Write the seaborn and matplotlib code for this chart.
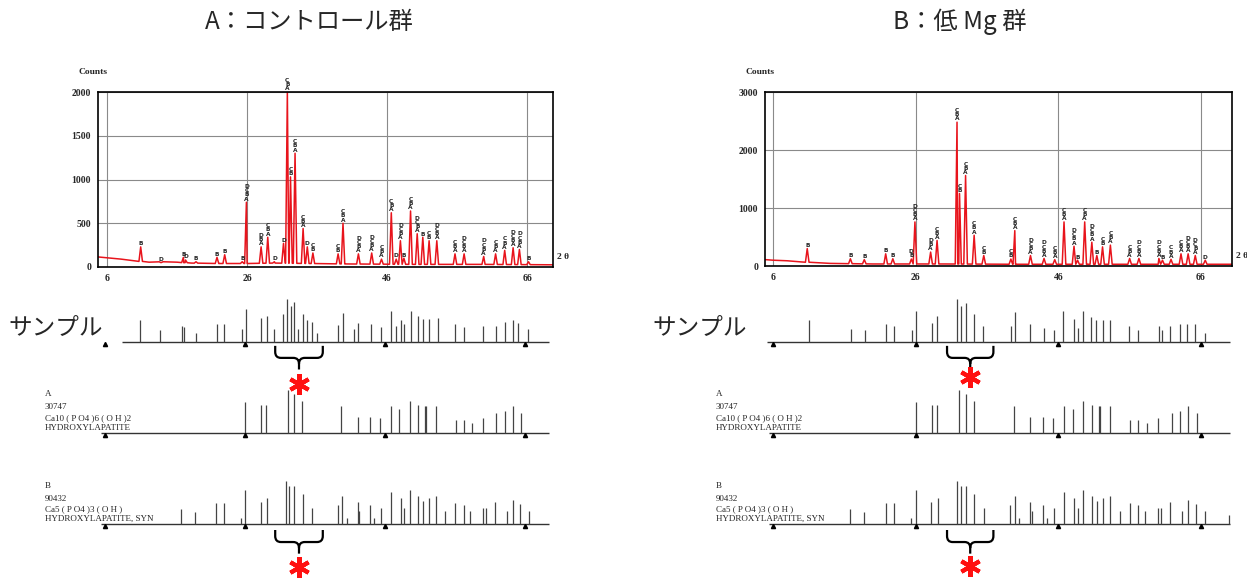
import numpy as np
import pandas as pd
import matplotlib
matplotlib.use('Agg')
import matplotlib.pyplot as plt
from matplotlib.path import Path
from matplotlib.patches import PathPatch
import seaborn as sns

# --- Data: XRD traces (2theta in degrees, counts) ---
A_BG_X = [4.7, 6, 8, 10, 12, 14, 16, 18, 22, 26, 30, 35, 40, 50, 60, 69.7]
A_BG_Y = [115, 105, 90, 70, 55, 60, 55, 45, 40, 40, 45, 40, 35, 30, 30, 25]
A_PEAK_POS = [10.8, 13.7, 16.9, 17.2, 18.7, 21.7, 22.8, 25.3, 25.9, 28.0, 28.95, 29.9,
              31.2, 31.75, 32.2, 32.85, 34.0, 34.6, 35.4, 39.0, 39.7, 41.9, 43.8, 45.2,
              46.6, 47.3, 47.9, 48.4, 49.35, 50.3, 51.1, 52.0, 53.1, 55.7, 57.0, 59.8,
              61.5, 62.8, 64.0, 64.9, 66.2]
A_PEAK_CNT = [230, 50, 110, 80, 60, 110, 140, 60, 740, 230, 340, 60,
              270, 2000, 1030, 1300, 440, 230, 160, 150, 500, 150, 160, 90,
              620, 90, 300, 100, 640, 380, 340, 300, 300, 150, 150, 120,
              150, 190, 220, 200, 60]
A_PEAK_LBL = ['B', 'D', 'B', 'D', 'B', 'B', 'B', 'B', 'DCBA', 'DBA', 'CBA', 'D',
              'D', 'CBA', 'CB', 'CBA', 'CBA', 'D', 'CB', 'CB', 'CBA', 'DCBA', 'DCBA', 'CBA',
              'CBA', 'D', 'DCBA', 'B', 'CBA', 'DCBA', 'B', 'CB', 'DCBA', 'CBA', 'DCBA', 'DCBA',
              'CBA', 'CBA', 'DCBA', 'DCBA', 'B']

B_BG_X = [4.9, 6, 8, 10, 14, 20, 30, 40, 50, 60, 70.3]
B_BG_Y = [110, 100, 90, 70, 45, 35, 35, 30, 30, 30, 30]
B_PEAK_POS = [10.8, 16.85, 18.8, 21.8, 22.8, 25.4, 25.9, 28.1, 29.0, 31.8, 32.15, 33.0,
              34.2, 35.55, 39.35, 39.9, 42.1, 44.0, 45.5, 46.8, 48.2, 48.7, 49.7, 50.7,
              51.4, 52.2, 53.3, 56.0, 57.3, 60.1, 60.6, 61.8, 63.2, 64.2, 65.2, 66.6]
B_PEAK_CNT = [300, 125, 110, 210, 125, 120, 760, 240, 440, 2480, 1250, 1560,
              530, 180, 120, 610, 180, 130, 110, 760, 340, 100, 760, 410,
              180, 330, 360, 130, 130, 130, 100, 115, 210, 210, 180, 100]
B_PEAK_LBL = ['B', 'B', 'B', 'B', 'B', 'DB', 'DCBA', 'DBA', 'CBA', 'CBA', 'CB', 'CBA',
              'CBA', 'CB', 'CB', 'CBA', 'DCBA', 'DCBA', 'CBA', 'CBA', 'DCBA', 'B', 'CBA', 'DCBA',
              'B', 'CB', 'CBA', 'CBA', 'DCBA', 'DCBA', 'B', 'CBA', 'CBA', 'DCBA', 'DCBA', 'D']

# --- Data: stick patterns (2theta, relative intensity) ---
A_SAMPLE_POS = [11.0, 13.9, 16.95, 17.2, 19.0, 22.0, 23.0, 25.6, 26.1, 28.3, 29.1, 30.1,
                31.4, 32.0, 32.5, 33.0, 33.6, 34.2, 34.9, 35.6, 36.2, 39.3, 40.0, 41.6,
                42.1, 44.0, 45.4, 46.8, 47.5, 48.2, 48.7, 49.65, 50.7, 51.4, 52.2, 53.5,
                56.0, 57.2, 60.0, 61.8, 63.1, 64.2, 65.0, 66.4]
A_SAMPLE_H = [52, 28, 38, 36, 22, 42, 42, 30, 76, 56, 60, 30,
              64, 100, 84, 92, 30, 66, 52, 46, 22, 40, 68, 30,
              44, 42, 34, 72, 38, 52, 42, 72, 60, 54, 54, 56,
              42, 34, 38, 38, 46, 52, 44, 30]

B_SAMPLE_POS = [11.0, 16.9, 18.9, 21.8, 22.95, 25.5, 26.0, 28.3, 29.05, 31.8, 32.4, 33.0,
                34.2, 35.5, 39.3, 39.9, 42.0, 44.0, 45.4, 46.7, 48.2, 48.7, 49.5, 50.6,
                51.3, 52.2, 53.2, 55.9, 57.2, 60.1, 60.5, 61.7, 63.1, 64.1, 65.1, 66.5]
B_SAMPLE_H = [51, 31, 29, 43, 37, 29, 71, 45, 61, 100, 83, 91,
              65, 37, 37, 69, 41, 33, 28, 71, 53, 33, 71, 59,
              51, 51, 51, 37, 29, 37, 29, 37, 43, 43, 43, 21]

# reference card 30747 Ca10(PO4)6(OH)2
REF_A_POS = [26.0, 28.3, 29.0, 32.1, 33.0, 34.15, 39.75, 42.1, 43.8, 45.3, 46.8, 48.0,
             49.5, 50.7, 51.7, 51.9, 53.2, 56.1, 57.2, 58.4, 60.0, 61.9, 63.1, 64.2, 65.4]
REF_A_H = [72, 64, 66, 100, 90, 74, 62, 38, 38, 34, 62, 56,
           74, 66, 62, 62, 62, 30, 30, 24, 36, 46, 52, 62, 46]

# reference card 90432 Ca5(PO4)3(OH)
REF_B_POS = [16.85, 18.8, 21.9, 23.0, 25.4, 26.05, 28.2, 29.1, 31.8, 32.3, 33.0, 34.2,
             35.6, 39.2, 39.9, 40.55, 42.1, 42.3, 43.8, 44.45, 45.4, 46.85, 48.2, 48.7,
             49.5, 50.7, 51.4, 52.2, 53.25, 54.6, 56.0, 57.2, 58.1, 60.0, 60.4, 61.7,
             63.4, 64.2, 65.3, 66.6, 69.9]
REF_B_H = [36, 29, 49, 49, 14, 80, 51, 61, 100, 88, 88, 69,
           37, 44, 65, 14, 51, 30, 44, 14, 37, 74, 61, 37,
           80, 66, 53, 61, 66, 30, 49, 44, 30, 37, 37, 51,
           30, 55, 47, 30, 22]

MARK_POS = [6, 26, 46, 66]
RED = '#e8141c'
W, H = 1247, 579

sns.set_style('white')
plt.rcParams['font.family'] = ['Noto Sans CJK JP', 'DejaVu Sans']

fig = plt.figure(figsize=(W / 100, H / 100), dpi=100)
fig.patch.set_facecolor('white')


def box(x0, y0, x1, y1):
    # pixel box -> figure fraction rect
    return [x0 / W, 1 - y1 / H, (x1 - x0) / W, (y1 - y0) / H]


def draw_trace(ax, bg_x, bg_y, pos, cnt, lbl, xlim, ymax, step, count_xy, theta_xy):
    xs, ys = list(bg_x), list(bg_y)
    w = 0.25
    for p, c in zip(pos, cnt):
        b = np.interp(p, bg_x, bg_y)
        xs += [p - w, p, p + w]
        ys += [b, c, b]
    df = pd.DataFrame({'two_theta': xs, 'counts': ys}).sort_values('two_theta', kind='stable')
    ax.grid(True, color='#8a8a8a', lw=0.8)
    ax.set_axisbelow(True)
    sns.lineplot(data=df, x='two_theta', y='counts', ax=ax, estimator=None, sort=False,
                 color=RED, lw=1.1)
    for p, c, l in zip(pos, cnt, lbl):
        ax.annotate('\n'.join(l), (p, c), xytext=(0, 0.5), textcoords='offset points',
                    ha='center', va='bottom', fontsize=4.2, linespacing=0.78,
                    fontweight='bold', family='DejaVu Sans', annotation_clip=False)
    ax.set_xlim(*xlim)
    ax.set_ylim(0, ymax)
    ax.set_xticks(MARK_POS)
    ax.set_yticks(np.arange(0, ymax + 1, step))
    ax.set_xlabel('')
    ax.set_ylabel('')
    ax.tick_params(length=0, labelsize=7, pad=5)
    for t in ax.get_xticklabels() + ax.get_yticklabels():
        t.set_family('Liberation Serif')
        t.set_fontweight('bold')
    for s in ax.spines.values():
        s.set_color('black')
        s.set_linewidth(1.2)
    fig.text(count_xy[0] / W, 1 - count_xy[1] / H, 'Counts', ha='center', va='center',
             fontsize=6.8, fontweight='bold', family='Liberation Serif')
    fig.text(theta_xy[0] / W, 1 - theta_xy[1] / H, '2 θ', ha='left', va='center',
             fontsize=6.8, fontweight='bold', family='Liberation Serif')


def draw_sticks(ax, pos, h, xlim, line_from):
    ax.set_xlim(*xlim)
    ax.set_ylim(-23.3, 116.3)
    ax.axis('off')
    ax.hlines(0, line_from, xlim[1] - 0.3, color='#333333', lw=1.0)
    ax.vlines(pos, 0, h, color='#444444', lw=0.9)
    ax.plot(MARK_POS, [-5] * len(MARK_POS), '^', ms=3.0, color='black', clip_on=False)


def draw_brace(ax, x0, x1, top, mid, tip, ast_y):
    c = (x0 + x1) / 2
    dx = (x1 - x0) * 0.12
    dy = (top - mid) * 0.5
    verts = [(x0, top), (x0, mid + dy), (x0, mid), (x0 + dx, mid),
             (c - dx, mid), (c, mid), (c, mid - dy), (c, tip),
             (c, mid - dy), (c, mid), (c + dx, mid),
             (x1 - dx, mid), (x1, mid), (x1, mid + dy), (x1, top)]
    codes = [Path.MOVETO, Path.LINETO, Path.CURVE3, Path.CURVE3,
             Path.LINETO, Path.CURVE3, Path.CURVE3, Path.LINETO,
             Path.MOVETO, Path.CURVE3, Path.CURVE3,
             Path.LINETO, Path.CURVE3, Path.CURVE3, Path.LINETO]
    ax.add_patch(PathPatch(Path(verts, codes), fill=False, lw=1.6, color='black',
                           clip_on=False))
    ax.plot([c], [ast_y], marker=(6, 2, 0), ms=15, mew=3, color='#ff1010', clip_on=False)


def row_text(x, lines, y_list):
    for s, y in zip(lines, y_list):
        fig.text(x / W, 1 - y / H, s, ha='left', va='center', fontsize=6.5,
                 family='Liberation Serif')


REF_A_TXT = ['A', '30747', 'Ca10 ( P O4 )6 ( O H )2', 'HYDROXYLAPATITE']
REF_B_TXT = ['B', '90432', 'Ca5 ( P O4 )3 ( O H )', 'HYDROXYLAPATITE, SYN']

panels = [
    dict(title='A：コントロール群', title_x=309, top_box=(98, 92, 553, 267), xlim=(4.7, 69.7),
         bg=(A_BG_X, A_BG_Y), peaks=(A_PEAK_POS, A_PEAK_CNT, A_PEAK_LBL), ymax=2000, step=500,
         count_xy=(93, 72), theta_xy=(557, 257), stick_x=(96, 551),
         sample=(A_SAMPLE_POS, A_SAMPLE_H), sample_from=8.4, label_x=8, text_x=45,
         brace=(30.3, 37.1), ast=(-98, -100)),
    dict(title='B：低 Mg 群', title_x=960, top_box=(765, 92, 1232, 266), xlim=(4.88, 70.35),
         bg=(B_BG_X, B_BG_Y), peaks=(B_PEAK_POS, B_PEAK_CNT, B_PEAK_LBL), ymax=3000, step=1000,
         count_xy=(760, 72), theta_xy=(1236, 256), stick_x=(765, 1232),
         sample=(B_SAMPLE_POS, B_SAMPLE_H), sample_from=5.1, label_x=652, text_x=716,
         brace=(30.4, 36.9), ast=(-81, -98)),
]

ROW_BASE = [342, 433, 524]

for p in panels:
    fig.text(p['title_x'] / W, 1 - 22 / H, p['title'], ha='center', va='center', fontsize=17.5)

    ax = fig.add_axes(box(*p['top_box']))
    draw_trace(ax, p['bg'][0], p['bg'][1], *p['peaks'], xlim=p['xlim'], ymax=p['ymax'],
               step=p['step'], count_xy=p['count_xy'], theta_xy=p['theta_xy'])

    sx0, sx1 = p['stick_x']
    rows = [(p['sample'], p['sample_from']), ((REF_A_POS, REF_A_H), 5.4), ((REF_B_POS, REF_B_H), 5.4)]
    stick_axes = []
    for (pos, h), start, yb in zip([r[0] for r in rows], [r[1] for r in rows], ROW_BASE):
        sax = fig.add_axes(box(sx0, yb - 50, sx1, yb + 10))
        draw_sticks(sax, pos, h, p['xlim'], start)
        stick_axes.append(sax)

    fig.text(p['label_x'] / W, 1 - 328 / H, 'サンプル', ha='left', va='center', fontsize=17)
    row_text(p['text_x'], REF_A_TXT, [394, 407, 418, 428])
    row_text(p['text_x'], REF_B_TXT, [486, 499, 509, 519])

    b0, b1 = p['brace']
    draw_brace(stick_axes[0], b0, b1, -9, -37, -64, p['ast'][0])
    draw_brace(stick_axes[2], b0, b1, -14, -42, -69, p['ast'][1])

fig.savefig('out.png', dpi=100, facecolor='white')
